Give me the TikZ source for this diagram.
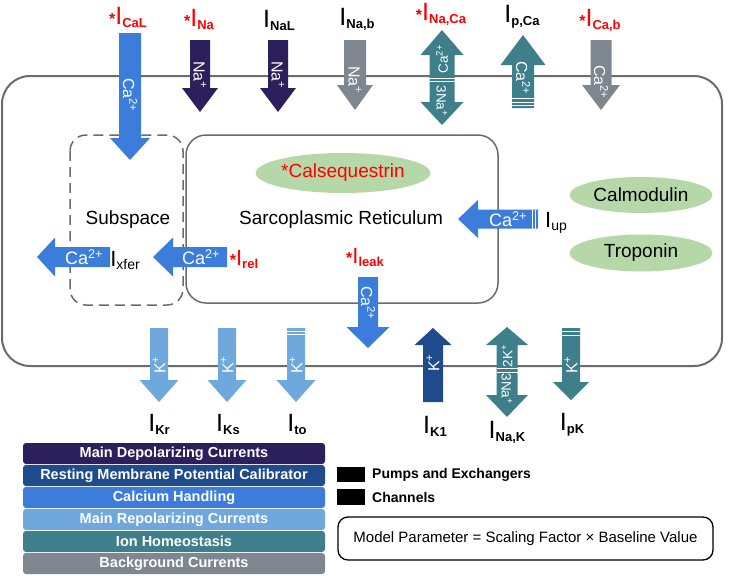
\documentclass[tikz,border=0pt]{standalone}
\usepackage{fontspec}
\setmainfont{Liberation Sans}
\usetikzlibrary{shapes.geometric}

\definecolor{calblue}{HTML}{3C7DDB}
\definecolor{depol}{HTML}{2B1F5C}
\definecolor{restblue}{HTML}{1E4B8C}
\definecolor{repol}{HTML}{6FA8DC}
\definecolor{homeo}{HTML}{3E7F8B}
\definecolor{backgr}{HTML}{7E878F}
\definecolor{bioGreen}{HTML}{B6D7A8}
\definecolor{membrane}{HTML}{6B6B6B}

% vertical block arrow: colour, x, tail y, head base y, tip y, half shaft, half head
\newcommand{\vArrow}[7]{%
  \fill[#1] (#2-#6,#3) -- (#2+#6,#3) -- (#2+#6,#4) -- (#2+#7,#4) -- (#2,#5)
    -- (#2-#7,#4) -- (#2-#6,#4) -- cycle;}
% two-headed vertical arrow: colour, x, tip, base, base, tip, half shaft, half head
\newcommand{\vdArrow}[8]{%
  \fill[#1] (#2,#3) -- (#2+#8,#4) -- (#2+#7,#4) -- (#2+#7,#5) -- (#2+#8,#5) -- (#2,#6)
    -- (#2-#8,#5) -- (#2-#7,#5) -- (#2-#7,#4) -- (#2-#8,#4) -- cycle;}
% horizontal block arrow: colour, y, tail x, head base x, tip x, half shaft, half head
\newcommand{\hArrow}[7]{%
  \fill[#1] (#3,#2-#6) -- (#3,#2+#6) -- (#4,#2+#6) -- (#4,#2+#7) -- (#5,#2)
    -- (#4,#2-#7) -- (#4,#2-#6) -- cycle;}
\newcommand{\Icur}[1]{{\fontsize{25}{25}\selectfont I}\raisebox{-3pt}{\fontsize{13}{13}\selectfont #1}}
\newcommand{\sig}{{\fontsize{16}{16}\selectfont\bfseries *}}

\begin{document}
\begin{tikzpicture}[x=1pt,y=-1pt,
	ion/.style={text=white, inner sep=0pt, font=\fontsize{16}{16}\selectfont},
	ionsm/.style={text=white, inner sep=0pt, font=\fontsize{13.5}{13.5}\selectfont},
	ionh/.style={text=white, inner sep=0pt, font=\fontsize{18}{18}\selectfont},
	curr/.style={inner sep=0pt},
	bioblob/.style={ellipse, fill=bioGreen, inner sep=0pt, font=\fontsize{19}{19}\selectfont},
	stripe/.style={white, line width=1pt},
	legbar/.style={fill=#1, rounded corners=3, minimum width=302, minimum height=21,
		inner sep=0pt, text=white, font=\fontsize{14.5}{14.5}\selectfont\bfseries},
	keybox/.style={fill=black, minimum width=28, minimum height=15.5, inner sep=0pt}]
	\useasboundingbox (0,0) rectangle (729,576);
	% cell, subspace and SR
	\draw[membrane, line width=2, rounded corners=28] (2,76) rectangle (722,366);
	\draw[membrane, line width=1.5, dashed, dash pattern=on 10pt off 6pt, rounded corners=16] (70,135) rectangle (183,305);
	\draw[membrane, line width=1.5, rounded corners=20] (186,135) rectangle (498,303);
	\node[inner sep=0pt, font=\fontsize{19}{19}\selectfont] (subsp) at (128,220) {Subspace};
	\node[inner sep=0pt, font=\fontsize{19}{19}\selectfont] (sr) at (341,220) {Sarcoplasmic Reticulum};
	\node[bioblob, minimum width=170, minimum height=40, text=red] (csq) at (343,173) {*Calsequestrin};
	\node[bioblob, minimum width=143, minimum height=36] (cam) at (641,195) {Calmodulin};
	\node[bioblob, minimum width=143, minimum height=37] (trp) at (641,253) {Troponin};

	% currents through the membrane, top row
	\vArrow{calblue}{130}{33}{138}{160}{11}{20}
	\vArrow{depol}{200}{40}{88}{112}{10}{18}
	\vArrow{depol}{278}{40}{88}{112}{10}{18}
	\vArrow{backgr}{355}{40}{85}{110}{11}{18}
	\vdArrow{homeo}{442}{30}{55}{102}{125}{12.5}{21.5}
	\draw[stripe] (429.5,78) -- (454.5,78) (429.5,81) -- (454.5,81);
	\vArrow{homeo}{523}{108}{65}{35}{11}{22.5}
	\draw[stripe] (512,98) -- (534,98) (512,102) -- (534,102) (512,105.5) -- (534,105.5);
	\vArrow{backgr}{601}{40}{85}{110}{10.5}{19}

	\node[ion, rotate=-90] (ncal) at (130,95) {Ca\textsuperscript{2+}};
	\node[ion, rotate=-90] (nna) at (200,75) {Na\textsuperscript{+}};
	\node[ion, rotate=-90] (nnal) at (278,75) {Na\textsuperscript{+}};
	\node[ion, rotate=-90] (nnab) at (355,80) {Na\textsuperscript{+}};
	\node[ionsm, rotate=90] (nncx1) at (442,59) {Ca\textsuperscript{2+}};
	\node[ionsm, rotate=-90] (nncx2) at (442,101) {3Na\textsuperscript{+}};
	\node[ion, rotate=-90] (npca) at (523,78) {Ca\textsuperscript{2+}};
	\node[ion, rotate=-90] (ncab) at (601,82) {Ca\textsuperscript{2+}};

	\node[curr, text=red] (lcal) at (128,17) {\sig\Icur{\bfseries CaL}};
	\node[curr, text=red] (lna) at (199,19) {\sig\Icur{\bfseries Na}};
	\node[curr] (lnal) at (279,20) {\Icur{\bfseries NaL}};
	\node[curr] (lnab) at (357,19) {\Icur{\bfseries Na,b}};
	\node[curr, text=red] (lncx) at (441,14) {\sig\Icur{\bfseries Na,Ca}};
	\node[curr] (lpca) at (522,17) {\Icur{\bfseries p,Ca}};
	\node[curr, text=red] (lcab) at (600,20) {\sig\Icur{\bfseries Ca,b}};

	% calcium handling inside the cell
	\hArrow{calblue}{219}{538}{478}{458}{9.5}{19}
	\draw[stripe] (532.5,209.5) -- (532.5,228.5) (535.5,209.5) -- (535.5,228.5);
	\hArrow{calblue}{257}{227}{173}{153}{10}{19.5}
	\hArrow{calblue}{257}{110}{55}{37}{10}{19.5}
	\vArrow{calblue}{368}{277}{327}{348}{10}{21.5}
	\node[ionh] (nup) at (508,219) {Ca\textsuperscript{2+}};
	\node[ionh] (nrel) at (201,257) {Ca\textsuperscript{2+}};
	\node[ionh] (nxfer) at (84,257) {Ca\textsuperscript{2+}};
	\node[ion, rotate=-90] (nleak) at (368,303) {Ca\textsuperscript{2+}};
	\node[curr] (lup) at (556,223) {{\fontsize{22}{22}\selectfont I}\raisebox{-3pt}{\fontsize{14}{14}\selectfont up}};
	\node[curr, text=red] (lrel) at (244,259) {\sig{\fontsize{22}{22}\selectfont I}\raisebox{-3pt}{\fontsize{13}{13}\selectfont\bfseries rel}};
	\node[curr] (lxfer) at (125,260) {{\fontsize{22}{22}\selectfont I}\raisebox{-3pt}{\fontsize{14}{14}\selectfont xfer}};
	\node[curr, text=red] (lleak) at (365,257) {\sig{\fontsize{22}{22}\selectfont I}\raisebox{-3pt}{\fontsize{13}{13}\selectfont\bfseries leak}};

	% potassium and pump currents, bottom row
	\vArrow{repol}{159}{328}{380}{402}{9}{19.5}
	\vArrow{repol}{227}{328}{380}{402}{9}{19.5}
	\vArrow{repol}{296}{328}{380}{402}{9}{19.5}
	\draw[stripe] (287,331) -- (305,331) (287,334.5) -- (305,334.5);
	\vArrow{restblue}{433}{402}{345}{328}{10}{18.5}
	\vdArrow{homeo}{507}{327}{345}{395}{417}{10.5}{21}
	\draw[stripe] (496.5,368) -- (517.5,368) (496.5,372) -- (517.5,372);
	\vArrow{homeo}{571}{328}{382}{400}{9}{18}
	\draw[stripe] (562,331) -- (580,331) (562,335) -- (580,335);

	\node[ion, rotate=90] (nkr) at (159,365) {K\textsuperscript{+}};
	\node[ion, rotate=90] (nks) at (227,365) {K\textsuperscript{+}};
	\node[ion, rotate=90] (nto) at (296,365) {K\textsuperscript{+}};
	\node[ion, rotate=90] (nk1) at (433,363) {K\textsuperscript{+}};
	\node[ionsm, rotate=90] (nnak1) at (507,356) {2K\textsuperscript{+}};
	\node[ionsm, rotate=-90] (nnak2) at (507,389) {3Na\textsuperscript{+}};
	\node[ion, rotate=90] (npk) at (571,365) {K\textsuperscript{+}};

	\node[curr] (lkr) at (159,424) {\Icur{\bfseries Kr}};
	\node[curr] (lks) at (228,424) {\Icur{\bfseries Ks}};
	\node[curr] (lto) at (297,424) {\Icur{\bfseries to}};
	\node[curr] (lk1) at (435,426) {\Icur{\bfseries K1}};
	\node[curr] (lnak) at (507,432) {\Icur{\bfseries Na,K}};
	\node[curr] (lpk) at (572,425) {\Icur{\bfseries pK}};

	% legend
	\foreach \col/\txt [count=\i from 0] in {depol/Main Depolarizing Currents,
		restblue/Resting Membrane Potential Calibrator, calblue/Calcium Handling,
		repol/Main Repolarizing Currents, homeo/Ion Homeostasis, backgr/Background Currents}
		\node[legbar=\col] (leg\i) at (174,453.5+22*\i) {\txt};
	\node[keybox] (kpump) at (351,474.5) {};
	\node[keybox] (kchan) at (351,497) {};
	\node[anchor=west, inner sep=0pt, font=\fontsize{14}{14}\selectfont\bfseries] (tpump) at (372,474.5) {Pumps and Exchangers};
	\node[anchor=west, inner sep=0pt, font=\fontsize{14}{14}\selectfont\bfseries] (tchan) at (372,497) {Channels};
	\node[draw, line width=1.3, rounded corners=10, minimum width=375, minimum height=43,
		font=\fontsize{15}{15}\selectfont] (model) at (525.5,538.5) {Model Parameter = Scaling Factor × Baseline Value};
\end{tikzpicture}
\end{document}
